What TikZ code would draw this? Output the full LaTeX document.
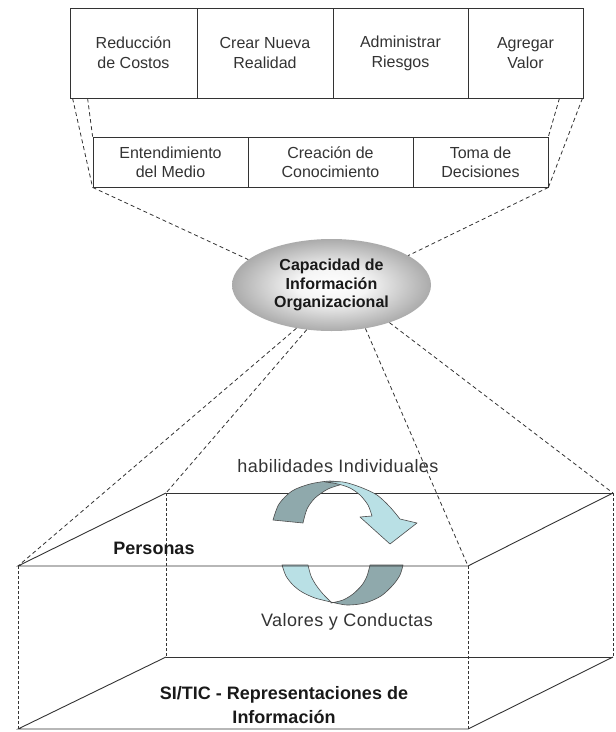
\documentclass[tikz,border=0pt]{standalone}
\usepackage{fontspec}
\setmainfont{Liberation Sans}
\newfontfamily\spacedsans[LetterSpace=2.5]{Liberation Sans}
\usetikzlibrary{shapes.geometric,calc}
\definecolor{linec}{HTML}{333333}
\definecolor{ribdark}{HTML}{8FA9AC}
\definecolor{riblight}{HTML}{B9E0E5}
\pgfdeclareradialshading{capshade}{\pgfpoint{0bp}{0bp}}{color(0bp)=(white); color(9bp)=(black!4); color(25bp)=(black!33); color(50bp)=(black!33)}

\begin{document}
\begin{tikzpicture}[x=1pt,y=-1pt,
  every node/.style={text=black!90},
  cellA/.style={draw=linec, line width=0.8pt, minimum height=90pt, inner sep=0pt, align=center, font=\fontsize{16}{20}\selectfont, text=black!80},
  cellB/.style={draw=linec, line width=0.8pt, minimum height=50pt, inner sep=0pt, align=center, font=\fontsize{16}{19}\selectfont, text=black!80},
  dashln/.style={draw=linec, line width=0.8pt, dash pattern=on 4pt off 3pt},
  boxedge/.style={draw=linec, line width=0.9pt},
  hidedge/.style={draw=linec, line width=0.8pt, dash pattern=on 3pt off 2pt},
  ribbon/.style={draw=black!70, line width=0.6pt, line join=round},
  capnode/.style={ellipse, minimum width=199pt, minimum height=92pt, inner sep=0pt, shading=capshade, align=center, font=\bfseries\fontsize{16}{18.5}\selectfont},
  boxlbl/.style={font=\bfseries\fontsize{18}{24}\selectfont, align=center},
  flowlbl/.style={font=\spacedsans\fontsize{18}{22}\selectfont, text=black!80}
]
\useasboundingbox (0,0) rectangle (616,732);

% goals row
\node[cellA, minimum width=127pt] (r1a) at (133.5,53) {Reducción\\de Costos};
\node[cellA, minimum width=136pt] (r1b) at (265,53) {Crear Nueva\\Realidad};
\node[cellA, minimum width=135pt] (r1c) at (400.5,53) {Administrar\\Riesgos};
\node[cellA, minimum width=115pt] (r1d) at (525.5,53) {Agregar\\Valor};

% capabilities row
\node[cellB, minimum width=155pt] (r2a) at (170.5,162) {Entendimiento\\del Medio};
\node[cellB, minimum width=165pt] (r2b) at (330.5,162) {Creación de\\Conocimiento};
\node[cellB, minimum width=135pt] (r2c) at (480.5,162) {Toma de\\Decisiones};

% central ellipse
\node[capnode] (cap) at (331.5,285) {Capacidad de\\Información\\Organizacional};

% projection lines between the rows
\coordinate (l1) at ($(r1a.south west)+(3,0)$);
\coordinate (l2) at ($(r1a.south west)+(18,0)$);
\coordinate (q1) at ($(r1d.south east)+(-1,0)$);
\coordinate (q2) at ($(r1d.south east)+(-24,0)$);
\draw[dashln] (l1) -- (r2a.south west);
\draw[dashln] (l2) -- (r2a.north west);
\draw[dashln] (q1) -- (r2c.south east);
\draw[dashln] (q2) -- (r2c.north east);
\draw[dashln] (r2a.south west) -- (cap.163);
\draw[dashln] (r2c.south east) -- (cap.21);

% box corners
\coordinate (BL) at (166,493);
\coordinate (BR) at (613,493);
\coordinate (FL) at (18,566);
\coordinate (FR) at (468,566);
\coordinate (BLb) at (166,657);
\coordinate (BRb) at (613,657);
\coordinate (FLb) at (18,729);
\coordinate (FRb) at (468,729);

% projection lines to the box
\draw[dashln] (cap.231) -- (FL);
\draw[dashln] (cap.241) -- (BL);
\draw[dashln] (cap.308) -- (FR);
\draw[dashln] (cap.327) -- (BR);

% back top edge under the arrow
\draw[boxedge] (BL) -- (BR);

% upper circular arrow
\filldraw[ribbon, fill=ribdark] plot[smooth] coordinates {(273,520) (279,504) (292,491) (310,484) (330,481) (343,483)}
  -- plot[smooth] coordinates {(343,484) (328,489) (315,498) (307,509) (303,523)} -- cycle;
\filldraw[ribbon, fill=riblight] plot[smooth] coordinates {(325,482) (343,482) (360,487) (377,495) (390,507) (400,519)}
  -- (417,523) -- (390,544) -- (360,517)
  -- plot[smooth] coordinates {(372,516) (368,505) (360,495) (350,488) (338,484) (325,482)} -- cycle;

% lower loop
\filldraw[ribbon, fill=riblight] plot[smooth] coordinates {(282,565) (286,576) (293,585) (302,592) (315,598) (331,602)}
  -- plot[smooth] coordinates {(331,602) (323,594) (316,585) (311,576) (308,565)} -- cycle;
\filldraw[ribbon, fill=ribdark] plot[smooth] coordinates {(331,602) (347,605) (365,603) (381,596) (393,585) (400,575) (403,565)}
  -- (370,565)
  -- plot[smooth] coordinates {(370,565) (367,576) (362,585) (353,594) (343,600) (331,603)} -- cycle;

% box edges
\draw[boxedge] (BL) -- (FL) -- (FR) -- (BR);
\draw[boxedge] (BLb) -- (BRb);
\draw[boxedge] (BLb) -- (FLb) -- (FRb) -- (BRb);
\draw[hidedge] (FL) -- (FLb);
\draw[hidedge] (BL) -- (BLb);
\draw[hidedge] (FR) -- (FRb);
\draw[hidedge] (BR) -- (BRb);

% labels
\node[boxlbl] (pers) at (154,548) {Personas};
\node[flowlbl] (hab) at (338,466) {habilidades Individuales};
\node[flowlbl] (val) at (347,622) {Valores y Conductas};
\node[boxlbl] (sitic) at (284,705) {SI/TIC - Representaciones de\\Información};
\end{tikzpicture}
\end{document}
